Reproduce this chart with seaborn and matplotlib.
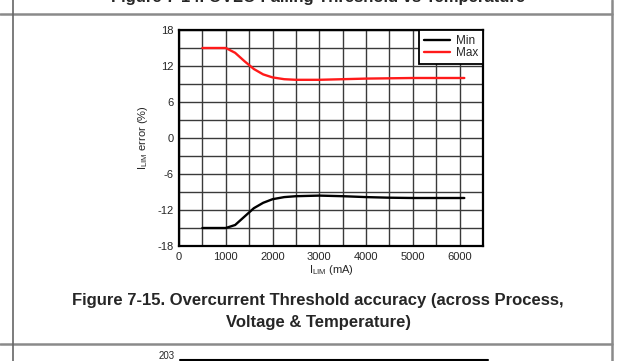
import pandas as pd
import numpy as np
import matplotlib.pyplot as plt
import seaborn as sns
from matplotlib.lines import Line2D

# values
ilim_ma = [500, 1000, 1200, 1400, 1600, 1800, 2000, 2250, 2500, 3000, 3500, 4000, 4500, 5000, 5500, 6100]
err_max = [15, 15, 14.2, 12.8, 11.5, 10.6, 10.1, 9.8, 9.7, 9.7, 9.8, 9.9, 9.95, 10.0, 10.0, 10.0]
err_min = [-15, -15, -14.5, -13.1, -11.7, -10.8, -10.2, -9.85, -9.7, -9.6, -9.7, -9.85, -9.95, -10.0, -10.0, -10.0]
x_ticks = [0, 1000, 2000, 3000, 4000, 5000, 6000]
y_ticks = [-18, -12, -6, 0, 6, 12, 18]

df = pd.DataFrame({
    "ILIM": ilim_ma * 2,
    "err": err_min + err_max,
    "series": ["Min"] * len(ilim_ma) + ["Max"] * len(ilim_ma),
})

sns.set_style("white")
plt.rcParams['font.family'] = ['Liberation Sans', 'DejaVu Sans']
plt.rcParams['axes.unicode_minus'] = False

W, H = 640, 361
fig = plt.figure(figsize=(6.4, 3.61), dpi=100)

def fx(px):
    return px / W

def fy(py):
    return 1 - py / H

ax = fig.add_axes([fx(179), fy(246), fx(483) - fx(179), fy(30) - fy(246)])

sns.lineplot(data=df, x="ILIM", y="err", hue="series",
             palette={"Min": "black", "Max": "#ff1a1a"},
             linewidth=1.7, ax=ax, legend=False)

ax.set_xlim(0, 6500)
ax.set_ylim(-18, 18)
ax.set_xticks(np.arange(0, 6501, 500), minor=True)
ax.set_yticks(np.arange(-18, 19, 3), minor=True)
ax.set_xticks(x_ticks)
ax.set_yticks(y_ticks)
ax.grid(which="both", color="#3a3a3a", linewidth=1.0)
ax.tick_params(which="both", length=0, labelsize=8, pad=4)
for s in ax.spines.values():
    s.set_color("black")
    s.set_linewidth(1.6)

ax.set_xlabel("I$_{\\mathregular{LIM}}$ (mA)", fontsize=8, labelpad=1)
ax.set_ylabel("I$_{\\mathregular{LIM}}$ error (%)", fontsize=8, labelpad=5)

handles = [Line2D([], [], color="black", lw=1.7), Line2D([], [], color="#ff1a1a", lw=1.7)]
leg = ax.legend(handles, ["Min", "Max"], loc="upper right", fontsize=8.5,
                frameon=True, fancybox=False, framealpha=1, borderaxespad=0,
                handlelength=2.2, borderpad=0.4, labelspacing=0.05, handletextpad=0.5)
leg.get_frame().set_edgecolor("black")
leg.get_frame().set_linewidth(1.3)

# page decorations around the figure
gray = "#8a8a8a"
fig.add_artist(Line2D([fx(0), fx(612)], [fy(14), fy(14)], color=gray, lw=1.8))
fig.add_artist(Line2D([fx(0), fx(612)], [fy(344), fy(344)], color=gray, lw=1.8))
fig.add_artist(Line2D([fx(13), fx(13)], [0, 1], color="#666666", lw=1.2))
fig.add_artist(Line2D([fx(612), fx(612)], [0, 1], color=gray, lw=1.8))

fig.text(fx(318), fy(2), "Figure 7-14. OVLO Falling Threshold vs Temperature",
         ha="center", va="baseline", fontsize=12, fontweight="bold")
fig.text(fx(318), fy(300), "Figure 7-15. Overcurrent Threshold accuracy (across Process,",
         ha="center", va="center", fontsize=12, fontweight="bold")
fig.text(fx(318), fy(322), "Voltage & Temperature)",
         ha="center", va="center", fontsize=12, fontweight="bold")

# start of next chart, cut off by the page edge
fig.add_artist(Line2D([fx(180), fx(488)], [fy(360), fy(360)], color="black", lw=1.5))
fig.text(fx(175), fy(359), "203", ha="right", va="baseline", fontsize=7)

fig.savefig("out.png", dpi=100)
